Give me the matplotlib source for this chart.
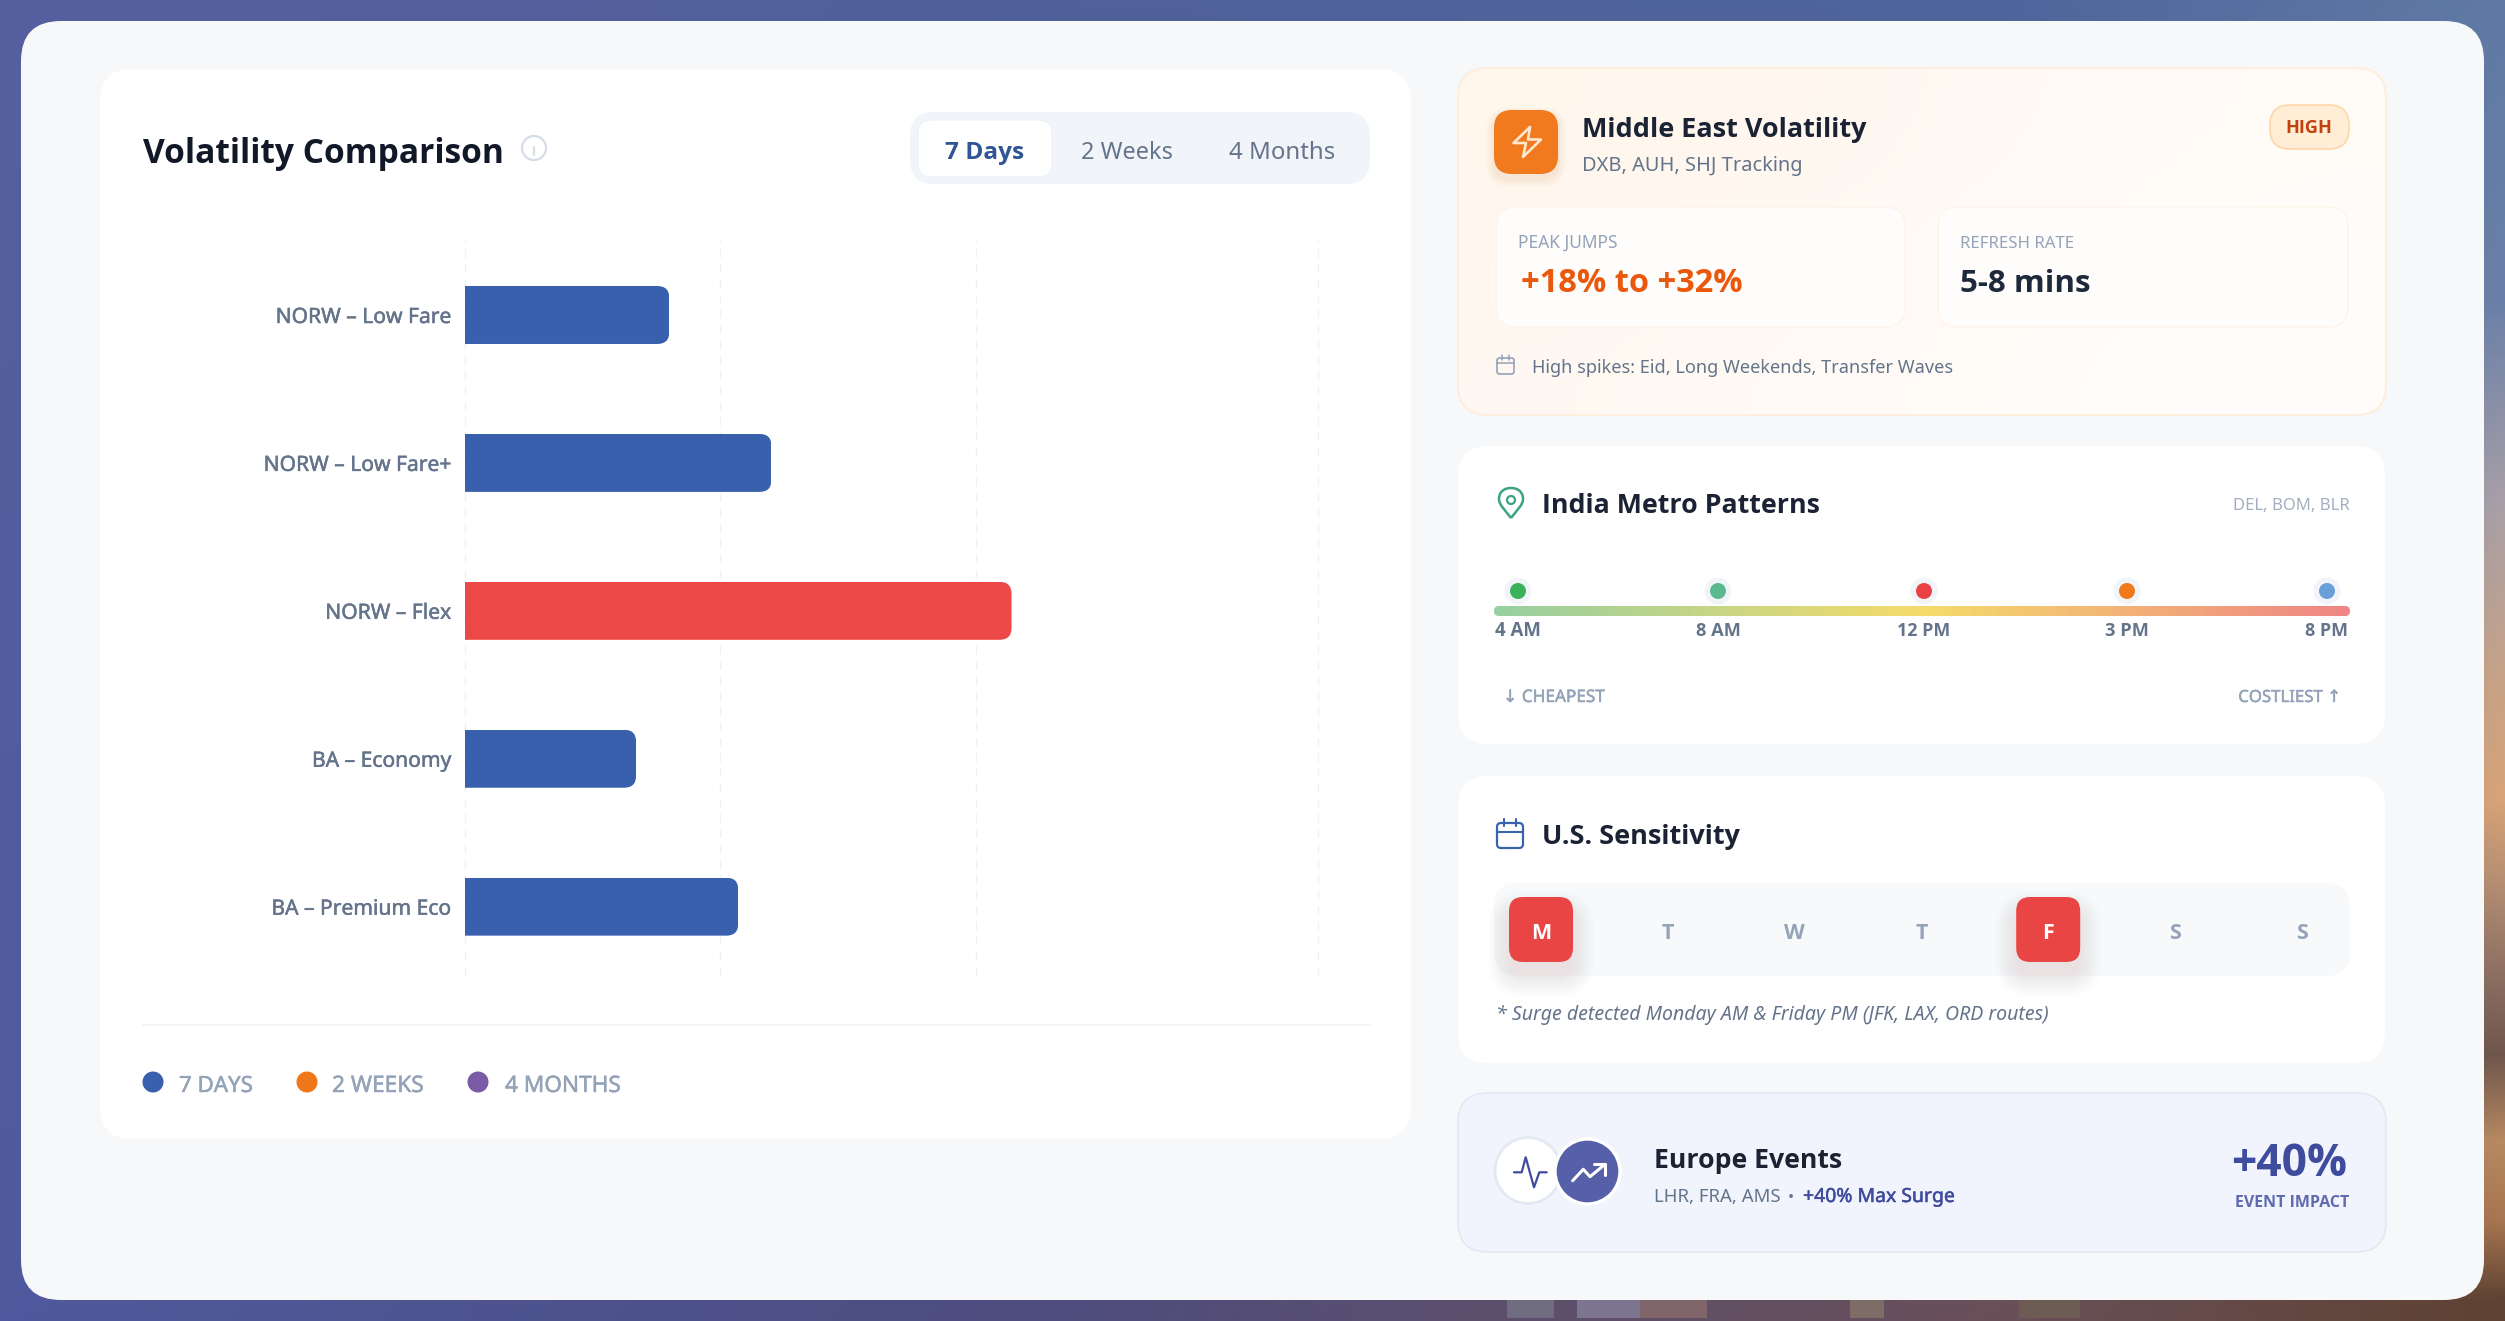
import numpy as np
import matplotlib
matplotlib.use("Agg")
import matplotlib.pyplot as plt
import matplotlib.patheffects as pe
from matplotlib.colors import to_rgb, LinearSegmentedColormap
from matplotlib.patches import FancyBboxPatch, Circle, PathPatch, Rectangle
from matplotlib.path import Path
from matplotlib.transforms import IdentityTransform

W, H = 2505, 1321
FONT = ["Noto Sans", "DejaVu Sans"]
BOLD = ["Open Sans", "Noto Sans", "DejaVu Sans"]
plt.rcParams["font.family"] = FONT

# chart data
categories = ["NORW – Low Fare", "NORW – Low Fare+", "NORW – Flex", "BA – Economy", "BA – Premium Eco"]
values_7d = [8.0, 12.0, 21.4, 6.7, 10.7]
grid_ticks = [0, 10, 20, 33.4]
highlight = "NORW – Flex"
tabs = ["7 Days", "2 Weeks", "4 Months"]
legend_labels = ["7 DAYS", "2 WEEKS", "4 MONTHS"]
legend_colors = ["#3860ad", "#f0761a", "#7b5aa6"]
time_labels = ["4 AM", "8 AM", "12 PM", "3 PM", "8 PM"]
time_colors = ["#3cb15b", "#5bb98f", "#ea4145", "#f0791b", "#6a9fd8"]
week_days = ["M", "T", "W", "T", "F", "S", "S"]
surge_days = [0, 4]

# rough colours of the photo behind the panel, only the edges show
bg_y = [0, 300, 500, 675, 800, 885, 970, 1055, 1140, 1220, 1300, 1321]
bg_x = [0, 1000, 2000, 2505]
bg_right = ["#607aa5", "#6a80a8", "#a8a0a8", "#c8a488", "#d9a478", "#b58e72",
            "#8f7163", "#6f564c", "#b98a62", "#a87650", "#5e4232", "#5e4232"]
bg_bottom = ["#4f5a9e", "#4d4d80", "#6a5058", "#6b4c30"]
bg_top = ["#565f9f", "#50609a", "#4f659c", "#607aa5"]
# vehicles showing under the panel: left, right, colour
vehicles = [(1507, 1554, "#6f6c80"), (1577, 1640, "#7d7590"), (1640, 1707, "#80666a"),
            (1850, 1884, "#7d6d66"), (2019, 2080, "#6d5c54")]

fig = plt.figure(figsize=(W / 100, H / 100), dpi=100)
px = fig.add_axes([0, 0, 1, 1])
px.set_axis_off()


def reset_limits():
    px.set_xlim(0, W)
    px.set_ylim(H, 0)


reset_limits()
renderer = fig.canvas.get_renderer()


def fit_size(s, width, **kw):
    t = px.text(0, 0, s, fontsize=20, **kw)
    size = 20 * width / t.get_window_extent(renderer).width
    t.remove()
    return size


def label(x, y, s, width, color, weight="normal", ha="left", style="normal", z=10):
    family = BOLD if weight == "bold" else FONT
    size = fit_size(s, width, fontweight=weight, fontstyle=style, family=family)
    t = px.text(x, y, s, fontsize=size, color=color, fontweight=weight, ha=ha,
                va="baseline", fontstyle=style, family=family, zorder=z)
    if weight == "medium":
        t.set_path_effects([pe.withStroke(linewidth=0.35, foreground=color)])
    return t


def rrect(x0, y0, x1, y1, r, fc="white", ec="none", lw=0, alpha=None, z=2):
    p = FancyBboxPatch((x0, y0), x1 - x0, y1 - y0, boxstyle=f"round,pad=0,rounding_size={r}",
                       fc=fc, ec=ec, lw=lw, alpha=alpha, zorder=z, mutation_aspect=1)
    px.add_patch(p)
    return p


def shadow(x0, y0, x1, y1, r, color="#0f172a", a=0.0014, n=10, dy=3, z=1.5):
    for i in range(n, 0, -1):
        rrect(x0 - i, y0 - i + dy, x1 + i, y1 + i + dy, r + i, fc=color, alpha=a, z=z)


def stroke(points, color, lw, z=6):
    xs, ys = zip(*points)
    px.plot(xs, ys, color=color, lw=lw, solid_capstyle="round", solid_joinstyle="round", zorder=z)


# photo background
img = np.zeros((H, len(bg_x), 3))
for c in range(3):
    right_col = np.interp(np.arange(H), bg_y, [to_rgb(k)[c] for k in bg_right])
    for j in range(len(bg_x)):
        top_v, bot_v = to_rgb(bg_top[j])[c], to_rgb(bg_bottom[j])[c]
        img[:, j, c] = right_col if j == len(bg_x) - 1 else np.interp(np.arange(H), [0, H], [top_v, bot_v])
wide = np.zeros((H, W, 3))
for c in range(3):
    for i in range(H):
        wide[i, :, c] = np.interp(np.arange(W), bg_x, img[i, :, c])
px.imshow(wide, extent=(0, W, H, 0), aspect="auto", zorder=0)
reset_limits()
for x0, x1, col in vehicles:
    px.add_patch(Rectangle((x0, 1298), x1 - x0, 20, fc=col, ec="none", zorder=0.5))

# main panel
rrect(21, 21, 2484, 1300, 40, fc="#f7f8fa", z=1)

# left card
shadow(100, 69, 1411, 1139, 32)
rrect(100, 69, 1411, 1139, 32, fc="white", z=2)
label(143, 163, "Volatility Comparison", 361, "#111827", weight="bold")
px.add_patch(Circle((534, 148), 12, fc="none", ec="#d5dde8", lw=1.6, zorder=5))
stroke([(534, 147), (534, 155)], "#d5dde8", 1.6)
stroke([(534, 141.5), (534, 141.6)], "#d5dde8", 1.8)

rrect(910, 112, 1370, 184, 24, fc="#f1f4f8", z=3)
rrect(918, 120, 1052, 177, 14, fc="white", ec="#eef1f5", lw=0.8, z=4)
tab_x = [985, 1127, 1282]
tab_w = [79, 92, 106]
for i, name in enumerate(tabs):
    label(tab_x[i], 159, name, tab_w[i], "#2f5597" if i == 0 else "#64748b",
          weight="bold" if i == 0 else "normal", ha="center")

# bar chart
ax = fig.add_axes([465 / W, 1 - 975 / H, (1318 - 465) / W, (975 - 240) / H], facecolor="none", zorder=3)
ypos = np.arange(len(categories))
bars = ax.barh(ypos, values_7d, height=0.392, color=["#ed4848" if c == highlight else "#3860ad" for c in categories])
ax.set_xlim(grid_ticks[0], grid_ticks[-1])
ax.set_ylim(4.462, -0.507)
ax.set_xticks(grid_ticks)
ax.set_xticklabels([])
ax.set_yticks(ypos)
tick_size = fit_size(categories[1], 188)
ax.set_yticklabels(categories, fontsize=tick_size, color="#64748b", path_effects=[pe.withStroke(linewidth=0.35, foreground="#64748b")])
ax.tick_params(axis="both", length=0, pad=10)
ax.grid(axis="x", color="#edf0f4", lw=1, linestyle=(0, (6, 5)))
ax.set_axisbelow(True)
for s in ax.spines.values():
    s.set_visible(False)
for g in ax.get_xgridlines():
    g.set_clip_on(False)
for b in bars:
    e = b.get_window_extent(renderer)
    clip = FancyBboxPatch((e.x0 - 30, e.y0), e.width + 30, e.height, boxstyle="round,pad=0,rounding_size=12",
                          transform=IdentityTransform())
    b.set_clip_path(clip)

px.plot([143, 1370], [1025, 1025], color="#f1f3f6", lw=1.2, zorder=3)
leg_dot = [153, 307, 478]
leg_text = [179, 332, 505]
leg_w = [74, 92, 116]
for i, name in enumerate(legend_labels):
    px.add_patch(Circle((leg_dot[i], 1082), 10.5, fc=legend_colors[i], ec="none", zorder=5))
    label(leg_text[i], 1092, name, leg_w[i], "#94a3b8", weight="medium")

# middle east card
p = rrect(1458, 68, 2386, 415, 30, fc="none", ec="#fdeedd", lw=1.5, z=3)
grad = np.array([[0.0, 0.35, 0.7], [0.35, 0.7, 1.0]])
cmap_warm = LinearSegmentedColormap.from_list("warm", ["#fff6ec", "#fffaf5", "#fffdfb"])
im = px.imshow(grad, extent=(1458, 2386, 415, 68), aspect="auto", cmap=cmap_warm, interpolation="bicubic", zorder=2)
im.set_clip_path(p)
reset_limits()
shadow(1494, 110, 1558, 174, 16, color="#f07a1d", a=0.012, n=8, dy=5, z=3)
rrect(1494, 110, 1558, 174, 18, fc="#f07a1d", z=4)
stroke([(1530, 127), (1513.5, 143), (1526, 143), (1523, 157), (1541, 139.5), (1528, 139.5), (1530, 127)], "#ffe7d0", 1.9)
label(1582, 137, "Middle East Volatility", 284, "#1a2233", weight="bold")
label(1582, 171, "DXB, AUH, SHJ Tracking", 220, "#64748b")
rrect(2270, 105, 2349, 149, 20, fc="#ffedd5", ec="#fed7aa", lw=1.2, z=4)
label(2309, 133, "HIGH", 47, "#c2410c", weight="bold", ha="center")
rrect(1496, 207, 1905, 327, 20, fc="#fffdfb", ec="#fdf4ea", lw=1, z=4)
rrect(1938, 207, 2348, 327, 20, fc="#fffdfb", ec="#fdf4ea", lw=1, z=4)
label(1518, 248, "PEAK JUMPS", 100, "#94a3b8")
label(1960, 248, "REFRESH RATE", 115, "#94a3b8")
label(1521, 292, "+18% to +32%", 222, "#ea580c", weight="bold")
label(1960, 292, "5-8 mins", 130, "#1e293b", weight="bold")
rrect(1497, 358, 1514, 374, 2.5, fc="none", ec="#94a3b8", lw=1.2, z=5)
stroke([(1497, 363), (1514, 363)], "#94a3b8", 1.1)
stroke([(1502, 355), (1502, 360)], "#94a3b8", 1.1)
stroke([(1509, 355), (1509, 360)], "#94a3b8", 1.1)
label(1532, 373, "High spikes: Eid, Long Weekends, Transfer Waves", 421, "#64748b")

# india card
shadow(1458, 446, 2385, 744, 30)
rrect(1458, 446, 2385, 744, 30, fc="white", z=2)
pin = Path([(1511, 518), (1505, 510), (1499, 505), (1499, 499), (1499, 492), (1504, 488), (1511, 488),
            (1518, 488), (1523, 492), (1523, 499), (1523, 505), (1517, 510), (1511, 518)],
           [Path.MOVETO] + [Path.CURVE4] * 12)
px.add_patch(PathPatch(pin, fc="none", ec="#3aa57d", lw=1.8, zorder=5))
px.add_patch(Circle((1511, 500), 4, fc="none", ec="#3aa57d", lw=1.6, zorder=5))
label(1542, 513, "India Metro Patterns", 278, "#1a2233", weight="bold")
label(2350, 510, "DEL, BOM, BLR", 117, "#a3aec0", ha="right")
track = rrect(1494, 606, 2350, 616, 5, fc="none", z=3)
cmap_time = LinearSegmentedColormap.from_list("time", ["#97cf9f", "#f5dc6a", "#ef8585"])
im = px.imshow(np.linspace(0, 1, 256)[None, :], extent=(1494, 2350, 616, 606), aspect="auto", cmap=cmap_time, zorder=3)
im.set_clip_path(track)
reset_limits()
time_x = [1518, 1718, 1924, 2127, 2327]
time_w = [46, 45, 53, 44, 43]
for i, name in enumerate(time_labels):
    px.add_patch(Circle((time_x[i], 591), 13.5, fc="#f1f5f9", ec="none", zorder=4))
    px.add_patch(Circle((time_x[i], 591), 8, fc=time_colors[i], ec="none", zorder=5))
    label(time_x[i], 636, name, time_w[i], "#64748b", weight="bold", ha="center")
label(1503, 702, "↓ CHEAPEST", 102, "#94a3b8", weight="medium")
label(2341, 702, "COSTLIEST ↑", 103, "#94a3b8", weight="medium", ha="right")

# us card
shadow(1458, 776, 2385, 1063, 30)
rrect(1458, 776, 2385, 1063, 30, fc="white", z=2)
rrect(1497, 823, 1523, 848, 4, fc="none", ec="#3a63ad", lw=1.6, z=5)
stroke([(1497, 832), (1523, 832)], "#3a63ad", 1.5)
stroke([(1504, 819), (1504, 826)], "#3a63ad", 1.5)
stroke([(1516, 819), (1516, 826)], "#3a63ad", 1.5)
label(1542, 844, "U.S. Sensitivity", 198, "#1a2233", weight="bold")
rrect(1494, 883, 2350, 976, 24, fc="#f8f9fb", z=3)
for i, d in enumerate(week_days):
    x = 1541 + 126.8 * i
    surge = i in surge_days
    if surge:
        shadow(x - 30, 900, x + 30, 960, 14, color="#ea4545", a=0.0035, n=24, dy=14, z=3.5)
        rrect(x - 32, 897, x + 32, 962, 14, fc="#ea4545", z=4)
    px.text(x, 939, d, fontsize=15.5, fontweight="bold", family=BOLD, ha="center", va="baseline",
            color="white" if surge else "#94a3b8", zorder=6)
label(1496, 1020, "* Surge detected Monday AM & Friday PM (JFK, LAX, ORD routes)", 553, "#64748b", style="italic")

# europe card
rrect(1458, 1093, 2386, 1252, 30, fc="#f1f4fc", ec="#e3e8f4", lw=1.2, z=2)
px.add_patch(Circle((1528, 1170.5), 33, fc="white", ec="#e3e8f2", lw=2, zorder=4))
px.add_patch(Circle((1587.5, 1171.5), 32.5, fc="#5560a8", ec="white", lw=2.4, zorder=5))
stroke([(1514, 1172.3), (1521.7, 1172.3), (1525.7, 1157.3), (1534, 1187.3), (1539.3, 1172.3), (1546.7, 1172.3)], "#3f4b9c", 1.6)
stroke([(1572.7, 1180.7), (1583.3, 1169.3), (1590, 1176.7), (1605, 1164.3)], "white", 2.2)
stroke([(1594, 1164.3), (1605, 1164.3), (1605, 1175)], "white", 2.2)
label(1654, 1168, "Europe Events", 188, "#1a2233", weight="bold")
label(1654, 1202, "LHR, FRA, AMS", 127, "#64748b")
label(1791, 1202, "•", 6, "#64748b", ha="center")
label(1803, 1202, "+40% Max Surge", 152, "#3f4b9c", weight="medium")
label(2347, 1176, "+40%", 116, "#3f4b9c", weight="bold", ha="right")
label(2349, 1207, "EVENT IMPACT", 115, "#5f6ab0", weight="bold", ha="right")

fig.savefig("out.png", dpi=100)
